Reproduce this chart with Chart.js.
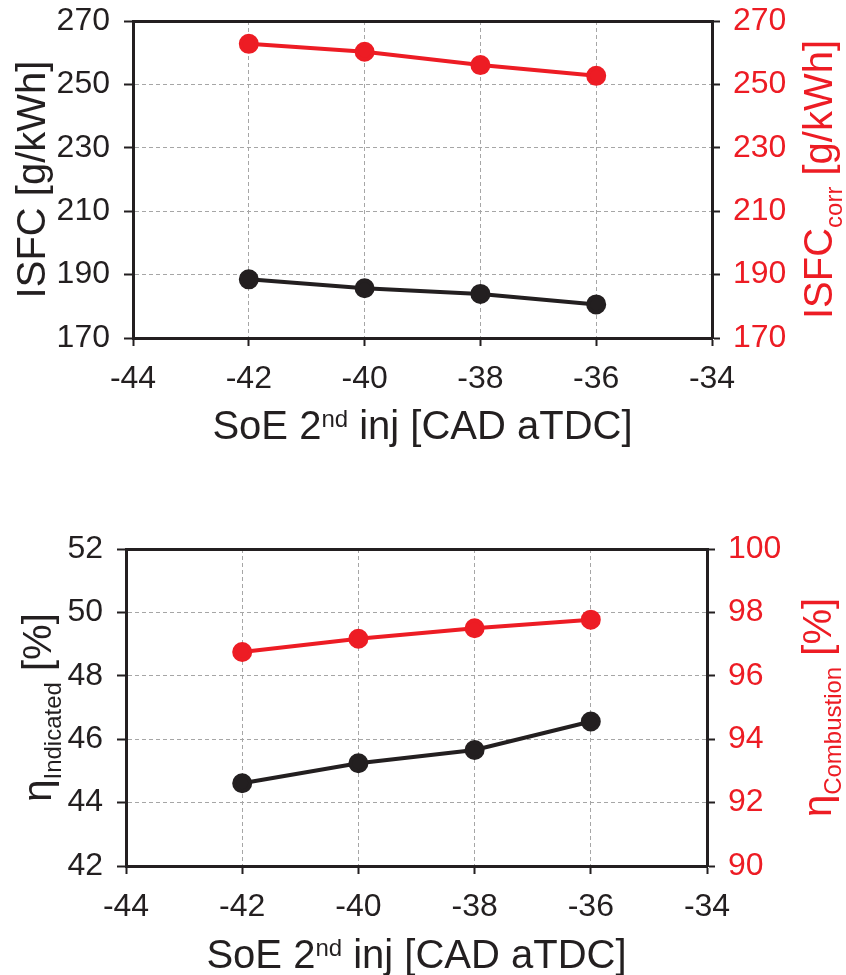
<!DOCTYPE html>
<html>
<head>
<meta charset="utf-8">
<script src="https://cdn.jsdelivr.net/npm/chart.js@4.4.1/dist/chart.umd.min.js"></script>
<style>
  html, body { margin: 0; padding: 0; background: #fff; }
  .box { position: absolute; left: 0; width: 846px; }
  #top { top: 0; height: 470px; }
  #bottom { top: 520px; height: 455px; }
</style>
</head>
<body>
<div class="box" id="top"><canvas id="chartTop"></canvas></div>
<div class="box" id="bottom"><canvas id="chartBottom"></canvas></div>
<script>
// data
const soe = [-42, -40, -38, -36];
const isfc = [188.5, 185.7, 183.9, 180.6];
const isfcCorr = [262.8, 260.3, 256.1, 252.7];
const etaInd = [44.61, 45.24, 45.66, 46.56];
const etaComb = [96.75, 97.17, 97.5, 97.77];

const xTicks = [-44, -42, -40, -38, -36, -34];

// axis titles as runs: [text, size, baseline shift]
const xTitle = [["SoE 2", 40, 0], ["nd", 24, -12], [" inj [CAD aTDC]", 40, 0]];
const isfcTitle = [["ISFC [g/kWh]", 40, 0]];
const isfcCorrTitle = [["ISFC", 40, 0], ["corr", 24, 10], [" [g/kWh]", 40, 0]];
const etaIndTitle = [["\u03b7", 40, 0], ["Indicated", 24, 10], [" [%]", 40, 0]];
const etaCombTitle = [["\u03b7", 40, 0], ["Combustion", 24, 10], [" [%]", 40, 0]];

const FONT = "'Liberation Sans', Arial, sans-serif";
const BLACK = "#231f20";
const RED = "#ed1c24";
const GRID = "#a6a6a6";

function drawRuns(ctx, runs, x, y, rot, color) {
  ctx.save();
  ctx.translate(x, y);
  ctx.rotate(rot);
  ctx.fillStyle = color;
  ctx.textBaseline = "alphabetic";
  let total = 0;
  const widths = runs.map(r => {
    ctx.font = r[1] + "px " + FONT;
    const w = ctx.measureText(r[0]).width;
    total += w;
    return w;
  });
  let cx = -total / 2;
  runs.forEach((r, i) => {
    ctx.font = r[1] + "px " + FONT;
    ctx.fillText(r[0], cx, r[2]);
    cx += widths[i];
  });
  ctx.restore();
}

function titlePlugin(t) {
  return {
    id: "titles",
    afterDraw(chart) {
      const ctx = chart.ctx;
      const a = chart.chartArea;
      const my = (a.top + a.bottom) / 2;
      const mx = (a.left + a.right) / 2;
      drawRuns(ctx, t.x, mx, a.bottom + t.xOff, 0, BLACK);
      drawRuns(ctx, t.left, a.left - t.leftOff, my, -Math.PI / 2, BLACK);
      drawRuns(ctx, t.right, a.right + t.rightOff, my, -Math.PI / 2, RED);
    }
  };
}

function makeChart(id, cfg) {
  // fixed axis sizes, no extra padding for half labels
  const fixW = w => (s => { s.width = w; s.paddingTop = 0; s.paddingBottom = 0; });
  const fixH = h => (s => { s.height = h; s.paddingLeft = 0; s.paddingRight = 0; });
  return new Chart(document.getElementById(id), {
    type: "line",
    data: {
      labels: soe,
      datasets: [
        {
          data: soe.map((x, i) => ({ x: x, y: cfg.left[i] })),
          yAxisID: "y",
          borderColor: BLACK, backgroundColor: BLACK,
          borderWidth: 4, pointRadius: 8, pointHoverRadius: 8,
          tension: 0
        },
        {
          data: soe.map((x, i) => ({ x: x, y: cfg.right[i] })),
          yAxisID: "y1",
          borderColor: RED, backgroundColor: RED,
          borderWidth: 4, pointRadius: 8, pointHoverRadius: 8,
          tension: 0
        }
      ]
    },
    options: {
      responsive: true,
      maintainAspectRatio: false,
      animation: false,
      events: [],
      layout: { padding: { top: cfg.padTop, left: 0, right: 0, bottom: 0 } },
      plugins: { legend: { display: false }, tooltip: { enabled: false } },
      scales: {
        x: {
          type: "linear", position: "bottom",
          min: -44, max: -34,
          afterBuildTicks: s => { s.ticks = xTicks.map(v => ({ value: v })); },
          afterFit: fixH(cfg.xH),
          ticks: { color: BLACK, font: { family: FONT, size: 32 }, padding: 14, maxRotation: 0 },
          grid: { color: GRID, lineWidth: 1, tickColor: BLACK, tickWidth: 2, tickLength: 8 },
          border: { color: BLACK, width: 3, dash: [4, 3] }
        },
        xTop: {
          type: "linear", position: "top", min: -44, max: -34,
          afterFit: fixH(0),
          ticks: { display: false },
          grid: { drawOnChartArea: false, drawTicks: false },
          border: { color: BLACK, width: 3 }
        },
        y: {
          type: "linear", position: "left",
          min: cfg.yMin, max: cfg.yMax,
          afterFit: fixW(cfg.leftW),
          ticks: { stepSize: cfg.yStep, color: BLACK, font: { family: FONT, size: 32 }, padding: 14 },
          grid: { color: GRID, lineWidth: 1, tickColor: BLACK, tickWidth: 2, tickLength: 9 },
          border: { color: BLACK, width: 3, dash: [4, 3] }
        },
        y1: {
          type: "linear", position: "right",
          min: cfg.y1Min, max: cfg.y1Max,
          afterFit: fixW(cfg.rightW),
          ticks: { stepSize: cfg.y1Step, color: RED, font: { family: FONT, size: 32 }, padding: 13 },
          grid: { drawOnChartArea: false, tickColor: BLACK, tickWidth: 2, tickLength: 8 },
          border: { color: BLACK, width: 3 }
        }
      }
    },
    plugins: [titlePlugin(cfg.titles)]
  });
}

makeChart("chartTop", {
  left: isfc, right: isfcCorr,
  yMin: 170, yMax: 270, yStep: 20,
  y1Min: 170, y1Max: 270, y1Step: 20,
  padTop: 21, xH: 132, leftW: 133, rightW: 134,
  titles: { x: xTitle, xOff: 101, left: isfcTitle, leftOff: 88, right: isfcCorrTitle, rightOff: 120 }
});

makeChart("chartBottom", {
  left: etaInd, right: etaComb,
  yMin: 42, yMax: 52, yStep: 2,
  y1Min: 90, y1Max: 100, y1Step: 2,
  padTop: 29, xH: 109, leftW: 126, rightW: 139,
  titles: { x: xTitle, xOff: 102, left: etaIndTitle, leftOff: 75, right: etaCombTitle, rightOff: 124 }
});
</script>
</body>
</html>
